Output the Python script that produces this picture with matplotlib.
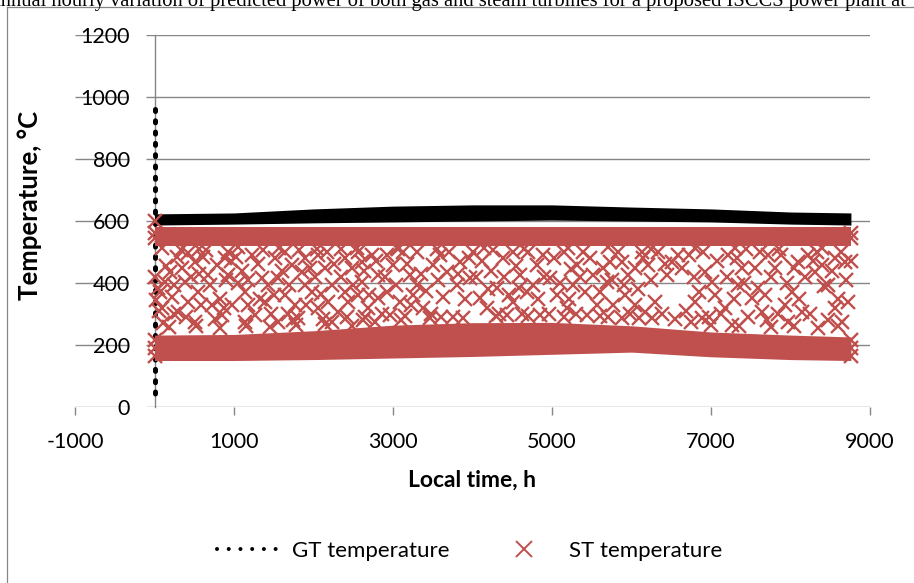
import matplotlib
matplotlib.use('Agg')
import matplotlib.pyplot as plt
from matplotlib.lines import Line2D

# ---------------- data ----------------
x_ticks = [-1000, 1000, 3000, 5000, 7000, 9000]
x_tick_labels = ['-1000', '1000', '3000', '5000', '7000', '9000']
y_ticks = [0, 200, 400, 600, 800, 1000, 1200]
y_tick_labels = ['0', '200', '400', '600', '800', '1000', '1200']

# GT temperature: start-up readings at hour 0, then the dense daily band
gt_start_hours = [0, 0]
gt_start_temps = [960, 40]
band_hours = [0, 1000, 2000, 3000, 4000, 5000, 6000, 7000, 8000, 8760]
gt_band_max = [623, 626, 639, 648, 652, 652, 645, 639, 629, 626]
gt_band_min = [587, 590, 594, 597, 600, 603, 600, 597, 590, 587]

# ST temperature: dense upper (on-load) band and lower band
st_high_max = [580, 580, 580, 580, 580, 580, 580, 580, 580, 580]
st_high_min = [520, 520, 520, 520, 520, 520, 520, 520, 520, 520]
st_low_max = [232, 234, 246, 264, 272, 273, 262, 242, 232, 226]
st_low_min = [150, 150, 153, 158, 163, 170, 177, 162, 153, 150]

# ST temperature: individual hourly points between the bands
st_scatter_hours = [
    0, 10, 40, 20, 60, 0, 0, 8760, 8760, 0, 0, 0, 8760, 8760, 8760,
    279, 426, 510, 614, 342, 195, 132, 69, 216, 90, 300, 426, 551, 677, 782,
    887, 719, 845, 1055, 1139, 1222, 1348, 1432, 1390, 1264, 1516, 1642, 1726,
    1851, 1893, 2061, 2145, 2229, 2397, 2481, 2606, 2732, 2816, 1642, 1768,
    1977, 2061, 2187, 2313, 2438, 2564, 2690, 2816, 1810, 1139, 510, 1558,
    2229, 2774, 384, 929, 971, 1558, 1893, 2606, 2397, 929,
    2921, 3005, 3130, 3214, 2921, 3089, 3256, 3382, 3508, 3592, 3676, 3801,
    3843, 4011, 4095, 4179, 4305, 4388, 4514, 4598, 4682, 4808, 4892, 4975,
    5059, 5185, 5311, 5395, 5521, 5604, 5730, 5772, 2963, 3466, 3885, 4430,
    4850, 5437, 3298, 3969, 4514, 5269, 5688,
    5877, 5961, 6045, 6128, 6212, 5919, 6045, 6170, 6296, 6254, 6506, 6590,
    6632, 6799, 6883, 6925, 7009, 7051, 7177, 7219, 7344, 7386, 7512, 7596,
    7638, 7722, 7806, 7931, 8015, 8099, 8141, 8225, 8309, 8393, 8477, 8560,
    8686, 8728, 8644, 7973, 7261, 5877, 8760,
    150, 240, 330, 460, 590, 650, 700, 820, 900, 960, 110, 250, 400, 560, 760, 880,
    1020, 1100, 1180, 1300, 1370, 1460, 1500, 1600, 1690, 1740, 1820, 1900,
    1950, 1180, 1330, 1680,
    2020, 2100, 2170, 2260, 2340, 2420, 2500, 2560, 2640, 2700, 2780, 2860,
    2900, 2120, 2350, 2620,
    3040, 3100, 3170, 3230, 3300, 3350, 3420, 3480, 3560, 3630, 3700, 3760,
    3820, 3900, 3950, 3060,
    4040, 4120, 4200, 4260, 4330, 4400, 4460, 4550, 4620, 4700, 4760, 4830,
    4900, 4960, 4230, 4580,
    5020, 5100, 5150, 5220, 5300, 5350, 5420, 5480, 5560, 5640, 5700, 5760,
    5830, 5900, 5980, 5240,
    6080, 6150, 6240, 6330, 6380, 6450, 6680, 6720, 6780, 6850, 6900, 6970,
    6420, 6750,
    7080, 7130, 7200, 7290, 7330, 7420, 7460, 7550, 7620, 7680, 7760, 7840,
    7880, 7960, 7440, 7700,
    8040, 8110, 8180, 8250, 8330, 8420, 8470, 8520, 8600, 8640, 8700, 8280, 8560,
    180, 520, 820, 1150, 1450, 1780, 2150, 2480, 2650, 3150, 3600, 4300,
    4700, 5150, 5600, 6100, 6550, 7000, 7350, 7750, 8050, 8350, 8600,
    100, 560, 1050, 1560, 2050, 2550, 3050, 3550, 4150, 4650, 5200, 5700,
    6250, 6800, 7300, 7850, 8400,
]
st_scatter_temps = [
    600, 420, 385, 345, 310, 545, 560, 545, 560, 165, 190, 215, 165, 190, 215,
    485, 496, 469, 485, 447, 437, 404, 372, 356, 318, 308, 340, 372, 426, 458,
    480, 329, 297, 399, 372, 490, 415, 394, 340, 297, 480, 501, 458,
    437, 480, 490, 447, 394, 480, 447, 469, 490, 426, 361, 329,
    372, 318, 340, 308, 340, 361, 318, 351, 286, 275, 275, 275,
    275, 275, 404, 426, 329, 415, 394, 404, 372, 501,
    490, 458, 501, 426, 372, 340, 361, 318, 458, 490, 437, 394,
    469, 501, 351, 318, 383, 480, 501, 426, 372, 458, 490, 415,
    361, 318, 458, 501, 426, 372, 469, 329, 297, 286, 286, 297,
    297, 297, 394, 415, 340, 394, 404,
    469, 426, 447, 501, 458, 361, 329, 308, 340, 286, 469, 490,
    447, 340, 286, 437, 404, 361, 318, 490, 394, 447, 351, 383,
    308, 490, 447, 329, 372, 469, 308, 490, 437, 458, 394, 480,
    469, 340, 275, 275, 265, 286, 470,
    455, 395, 505, 420, 330, 505, 395, 350, 410, 470, 270, 300, 290, 430, 285, 320,
    485, 440, 330, 460, 505, 300, 360, 440, 395, 280, 505, 330,
    450, 410, 350, 300,
    420, 365, 500, 460, 420, 290, 395, 500, 440, 360, 470, 300,
    420, 285, 510, 280,
    395, 280, 460, 330, 500, 430, 375, 300, 410, 355, 500, 290,
    430, 350, 480, 510,
    420, 470, 380, 505, 300, 420, 360, 455, 300, 500, 395, 350,
    420, 300, 440, 385,
    480, 400, 500, 350, 300, 420, 370, 480, 330, 450, 290, 410,
    500, 395, 300, 445,
    380, 480, 410, 500, 300, 425, 310, 490, 420, 370, 500, 290,
    460, 275,
    470, 300, 420, 350, 480, 400, 290, 450, 500, 360, 420, 300,
    490, 400, 510, 280,
    450, 350, 420, 300, 500, 390, 280, 440, 350, 500, 410, 470, 320,
    258, 262, 255, 262, 258, 265, 268, 262, 290, 292, 290, 295,
    292, 290, 295, 288, 285, 265, 262, 258, 262, 255, 260,
    512, 510, 515, 512, 510, 514, 512, 510, 513, 510, 512, 515,
    510, 512, 514, 510, 512,
]

series_names = ['GT temperature', 'ST temperature']
x_title = 'Local time, h'
y_title = 'Temperature, \u00b0C'
caption = ('Annual hourly variation of predicted power of both gas and steam '
           'turbines for a proposed ISCCS power plant at')

# ---------------- styling ----------------
W, H = 914, 583
GRID = '#868686'
RED = '#C0504D'
plt.rcParams['font.family'] = ['Lato', 'DejaVu Sans']

fig = plt.figure(figsize=(W / 100, H / 100), dpi=100)
ax = fig.add_axes([75 / W, (H - 407) / H, 795 / W, 372 / H])
ax.set_xlim(-1000, 9000)
ax.set_ylim(0, 1200)

for s in ['top', 'right', 'bottom']:
    ax.spines[s].set_visible(False)
ax.spines['left'].set_position(('data', 0))
ax.spines['left'].set_color(GRID)
ax.spines['left'].set_linewidth(1.0)
ax.spines['left'].set_zorder(0.6)

# horizontal gridlines (incl. x axis line at 0), with the gap at the labels
for yv in y_ticks:
    ax.hlines(yv, -1000, -333, color=GRID, lw=1.0, zorder=0.5)
    ax.hlines(yv, -107, 9000, color=GRID, lw=1.0, zorder=0.5)

ax.set_xticks(x_ticks)
ax.set_xticklabels(x_tick_labels)
ax.set_yticks(y_ticks)
ax.set_yticklabels(y_tick_labels)
ax.tick_params(axis='x', direction='out', length=5.8, width=1.0, color=GRID,
               labelsize=15.5, pad=12, labelcolor='black')
ax.tick_params(axis='y', length=0, labelsize=15.5, pad=17.5, labelcolor='black')

# GT series
ax.plot(gt_start_hours, gt_start_temps, color='black', lw=3.6,
        linestyle=(0, (0.4, 1.86)), dash_capstyle='round', zorder=2)
ax.fill_between(band_hours, gt_band_min, gt_band_max, color='black', lw=0,
                zorder=2)

# ST series
ax.fill_between(band_hours, st_high_min, st_high_max, color=RED, lw=0, zorder=3)
ax.fill_between(band_hours, st_low_min, st_low_max, color=RED, lw=0, zorder=3)
ax.plot(st_scatter_hours, st_scatter_temps, linestyle='none', marker='x',
        ms=10, mew=1.7, color=RED, zorder=3)

# axis titles
fig.text(472 / W, (H - 487) / H, x_title, ha='center', va='baseline',
         fontsize=16.5, fontweight='bold')
fig.text(30 / W, (H - 205) / H, y_title, ha='center', va='center',
         rotation=90, fontsize=18.5, fontweight='bold')

# legend
h_gt = Line2D([], [], color='black', lw=2.9, linestyle=(0, (0.01, 2.9)),
              dash_capstyle='round')
h_st = Line2D([], [], color=RED, marker='x', ls='none', ms=11, mew=1.4)
fig.legend([h_gt, h_st], series_names, loc='center',
           bbox_to_anchor=(470 / W, (H - 551) / H), ncol=2, frameon=False,
           fontsize=16, handlelength=2.7, handletextpad=0.68,
           columnspacing=2.0, borderpad=0, borderaxespad=0)

# caption (cut by the top edge, as in the reference) and chart-area border
fig.text(-13.5 / W, 1 - 6.0 / H, caption, ha='left', va='baseline',
         fontsize=14.8, family=['Liberation Serif', 'DejaVu Serif'])
fig.add_artist(Line2D([7 / W, 1.0], [1 - 7 / H, 1 - 7 / H], color=GRID,
                      lw=0.9, transform=fig.transFigure))
fig.add_artist(Line2D([7 / W, 7 / W], [0.0, 1 - 7 / H], color=GRID,
                      lw=0.9, transform=fig.transFigure))

fig.savefig('out.png', dpi=100)
